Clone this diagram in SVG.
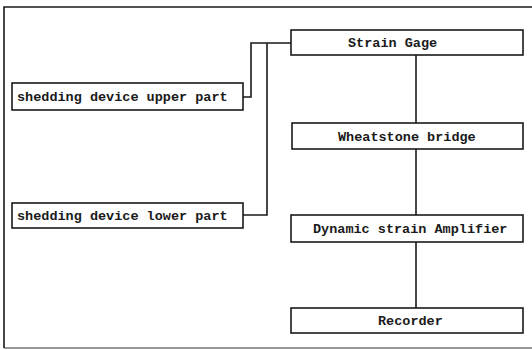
<svg xmlns="http://www.w3.org/2000/svg" width="532" height="350" viewBox="0 0 532 350">
<style>
.box{fill:#fff;stroke:#1a1a1a;stroke-width:1.6}
.ln{fill:none;stroke:#1a1a1a;stroke-width:1.6}
.t{font-family:"Liberation Mono","DejaVu Sans Mono",monospace;font-size:13.5px;font-weight:bold;fill:#1a1a1a}
</style>
<rect width="532" height="350" fill="#fff"/>
<path class="ln" d="M4,348 L4,7 L532,7" />
<path class="ln" d="M4,348 L532,348" stroke-opacity="0.6"/>
<g id="connectors">
<path class="ln" d="M291,43 L251,43 L251,97 L243,97"/>
<path class="ln" d="M267,43 L267,215 L243,215"/>
<path class="ln" d="M416,55 L416,123"/>
<path class="ln" d="M416,149 L416,215"/>
<path class="ln" d="M416,242 L416,308"/>
</g>
<g id="strain-gage">
<rect class="box" x="291" y="30" width="232" height="25"/>
<text class="t" x="348" y="47">Strain Gage</text>
</g>
<g id="wheatstone">
<rect class="box" x="292" y="123" width="231" height="26"/>
<text class="t" x="338" y="141">Wheatstone bridge</text>
</g>
<g id="amplifier">
<rect class="box" x="291" y="215" width="232" height="27"/>
<text class="t" x="313" y="233">Dynamic strain Amplifier</text>
</g>
<g id="recorder">
<rect class="box" x="291" y="308" width="232" height="25"/>
<text class="t" x="378" y="325">Recorder</text>
</g>
<g id="upper">
<rect class="box" x="12" y="83" width="231" height="27"/>
<text class="t" x="17" y="101">shedding device upper part</text>
</g>
<g id="lower">
<rect class="box" x="12" y="203" width="231" height="25"/>
<text class="t" x="17" y="220">shedding device lower part</text>
</g>
</svg>
